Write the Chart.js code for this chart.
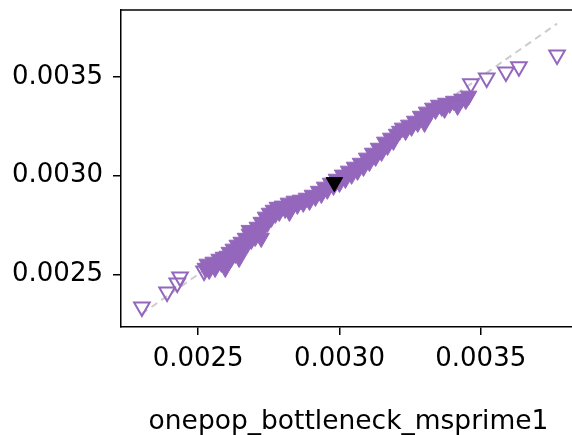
<!DOCTYPE html>
<html>
<head>
<meta charset="utf-8">
<script src="https://cdn.jsdelivr.net/npm/chart.js@4/dist/chart.umd.min.js"></script>
<style>
	html, body { margin: 0; padding: 0; overflow: hidden; background: #fff; }
	#wrap { width: 576px; height: 435px; }
</style>
</head>
<body>
<div id="wrap"><canvas id="chart" width="576" height="435"></canvas></div>
<script>
//main band of simulated values (x = onepop_bottleneck_msprime1, y = estimate)
var bandX = [
	0.002525, 0.002532, 0.002539, 0.002546, 0.002553, 0.002560, 0.002567, 0.002574, 0.002582, 0.002589, 0.002596, 0.002603,
	0.002610, 0.002617, 0.002624, 0.002631, 0.002638, 0.002645, 0.002652, 0.002660, 0.002667, 0.002674, 0.002681, 0.002688,
	0.002695, 0.002702, 0.002709, 0.002716, 0.002723,
	0.002730, 0.002738, 0.002745, 0.002752, 0.002759, 0.002766, 0.002773, 0.002780, 0.002787, 0.002798, 0.002808, 0.002819,
	0.002830, 0.002840, 0.002851, 0.002862,
	0.002872, 0.002883, 0.002894, 0.002904, 0.002915, 0.002926, 0.002936, 0.002947, 0.002957, 0.002968, 0.002979, 0.002989, 0.003000,
	0.003011, 0.003021, 0.003032, 0.003043, 0.003053, 0.003064, 0.003074, 0.003085, 0.003096, 0.003106, 0.003117, 0.003128,
	0.003138, 0.003149, 0.003160,
	0.003170, 0.003181, 0.003191, 0.003202, 0.003213, 0.003223, 0.003234, 0.003245, 0.003255, 0.003266, 0.003277, 0.003287,
	0.003298, 0.003308, 0.003319, 0.003330, 0.003340, 0.003351, 0.003362, 0.003376, 0.003390, 0.003404, 0.003418, 0.003433,
	0.003447, 0.003457,
	0.002596, 0.002645, 0.002681, 0.002723, 0.002823, 0.003301, 0.003372, 0.003418
];
var bandY = [
	0.002532, 0.002553, 0.002522, 0.002543, 0.002563, 0.002532, 0.002553, 0.002578, 0.002558, 0.002588, 0.002563, 0.002593,
	0.002613, 0.002583, 0.002629, 0.002603, 0.002649, 0.002619, 0.002664, 0.002634, 0.002684, 0.002654, 0.002705, 0.002674,
	0.002720, 0.002689, 0.002740, 0.002710, 0.002765,
	0.002735, 0.002791, 0.002760, 0.002811, 0.002786, 0.002826, 0.002806, 0.002841, 0.002816, 0.002847, 0.002831, 0.002862,
	0.002841, 0.002872, 0.002852, 0.002877,
	0.002862, 0.002887, 0.002872, 0.002902, 0.002892, 0.002922, 0.002907, 0.002943, 0.002928, 0.002963, 0.002948, 0.002983, 0.002963,
	0.003004, 0.002983, 0.003024, 0.003004, 0.003044, 0.003024, 0.003064, 0.003044, 0.003090, 0.003069, 0.003115, 0.003095,
	0.003140, 0.003120, 0.003171,
	0.003150, 0.003191, 0.003176, 0.003211, 0.003226, 0.003242, 0.003226, 0.003257, 0.003247, 0.003277, 0.003267, 0.003302,
	0.003287, 0.003323, 0.003313, 0.003343, 0.003333, 0.003358, 0.003348, 0.003368, 0.003363, 0.003378, 0.003373, 0.003389,
	0.003383, 0.003404,
	0.002532, 0.002583, 0.002724, 0.002684, 0.002816, 0.003267, 0.003338, 0.003353
];

//extreme values drawn as open triangles
var outerX = [0.002301, 0.002390, 0.002426, 0.002436, 0.002521, 0.003465, 0.003521, 0.003589, 0.003635, 0.003770];
var outerY = [0.002335, 0.002411, 0.002456, 0.002487, 0.002517, 0.003465, 0.003495, 0.003525, 0.003551, 0.003611];

//mean point (black)
var meanX = [0.002982];
var meanY = [0.002966];

//y = x reference line
var diagX = [0.00230, 0.00377];
var diagY = [0.00230, 0.00377];

var tickVals = [0.0025, 0.0030, 0.0035];
var tickLabels = ["0.0025", "0.0030", "0.0035"];
var xTitle = "onepop_bottleneck_msprime1";

var purple = "#9467bd";

function toPoints(xs, ys) {
	var pts = [];
	for (var i = 0; i < xs.length; i++) {
		pts.push({x: xs[i], y: ys[i]});
	}
	return pts;
}

function setTicks(scale) {
	scale.ticks = tickVals.map(function(v) { return {value: v}; });
}

function tickLabel(value) {
	var idx = tickVals.indexOf(value);
	return idx >= 0 ? tickLabels[idx] : "";
}

//matplotlib style top spine
var topSpine = {
	id: "topSpine",
	afterDraw: function(chart) {
		var a = chart.chartArea;
		var ctx = chart.ctx;
		ctx.save();
		ctx.strokeStyle = "#000";
		ctx.lineWidth = 1.5;
		ctx.beginPath();
		ctx.moveTo(a.left - 0.75, a.top);
		ctx.lineTo(a.right, a.top);
		ctx.stroke();
		ctx.restore();
	}
};

var tickFont = {family: "'DejaVu Sans'", size: 26};
var titleFont = {family: "'DejaVu Sans'", size: 26.5};

var ctx = document.getElementById("chart").getContext("2d");
var myChart = new Chart(ctx, {
	type: "scatter",
	data: {
		datasets: [
			{
				type: "line",
				data: toPoints(diagX, diagY),
				borderColor: "#cccccc",
				borderWidth: 2,
				borderDash: [7, 5],
				pointRadius: 0,
				fill: false,
				order: 4
			},
			{
				data: toPoints(bandX, bandY),
				pointStyle: "triangle",
				rotation: 180,
				pointRadius: 9.5,
				backgroundColor: purple,
				borderColor: purple,
				borderWidth: 1,
				order: 3
			},
			{
				data: toPoints(outerX, outerY),
				pointStyle: "triangle",
				rotation: 180,
				pointRadius: 9,
				backgroundColor: "rgba(0,0,0,0)",
				borderColor: purple,
				borderWidth: 2,
				order: 2
			},
			{
				data: toPoints(meanX, meanY),
				pointStyle: "triangle",
				rotation: 180,
				pointRadius: 9.5,
				backgroundColor: "#000",
				borderColor: "#000",
				borderWidth: 1,
				order: 1
			}
		]
	},
	options: {
		responsive: false,
		animation: false,
		layout: {autoPadding: false, padding: {top: 10, right: 0, left: 0, bottom: 0}},
		plugins: {
			legend: {display: false},
			tooltip: {enabled: false}
		},
		scales: {
			x: {
				type: "linear",
				min: 0.002227,
				max: 0.003837,
				afterBuildTicks: setTicks,
				afterFit: function(scale) {
					scale.height = 108;
					scale.paddingLeft = 0;
					scale.paddingRight = 0;
				},
				grid: {display: true, drawOnChartArea: false, tickLength: 8, color: "#000", lineWidth: 1.5},
				border: {display: true, color: "#000", width: 1.5},
				ticks: {
					font: tickFont,
					color: "#000",
					padding: 9,
					maxRotation: 0,
					autoSkip: false,
					callback: tickLabel
				},
				title: {
					display: true,
					text: xTitle,
					font: titleFont,
					color: "#000",
					padding: {top: 0, bottom: -3}
				}
			},
			y: {
				type: "linear",
				min: 0.0022335,
				max: 0.003839,
				afterBuildTicks: setTicks,
				afterFit: function(scale) {
					scale.width = 121;
					scale.paddingTop = 0;
					scale.paddingBottom = 0;
				},
				grid: {display: true, drawOnChartArea: false, tickLength: 8, color: "#000", lineWidth: 1.5},
				border: {display: true, color: "#000", width: 1.5},
				ticks: {
					font: tickFont,
					color: "#000",
					padding: 10,
					autoSkip: false,
					callback: tickLabel
				}
			}
		}
	},
	plugins: [topSpine]
});
</script>
</body>
</html>
